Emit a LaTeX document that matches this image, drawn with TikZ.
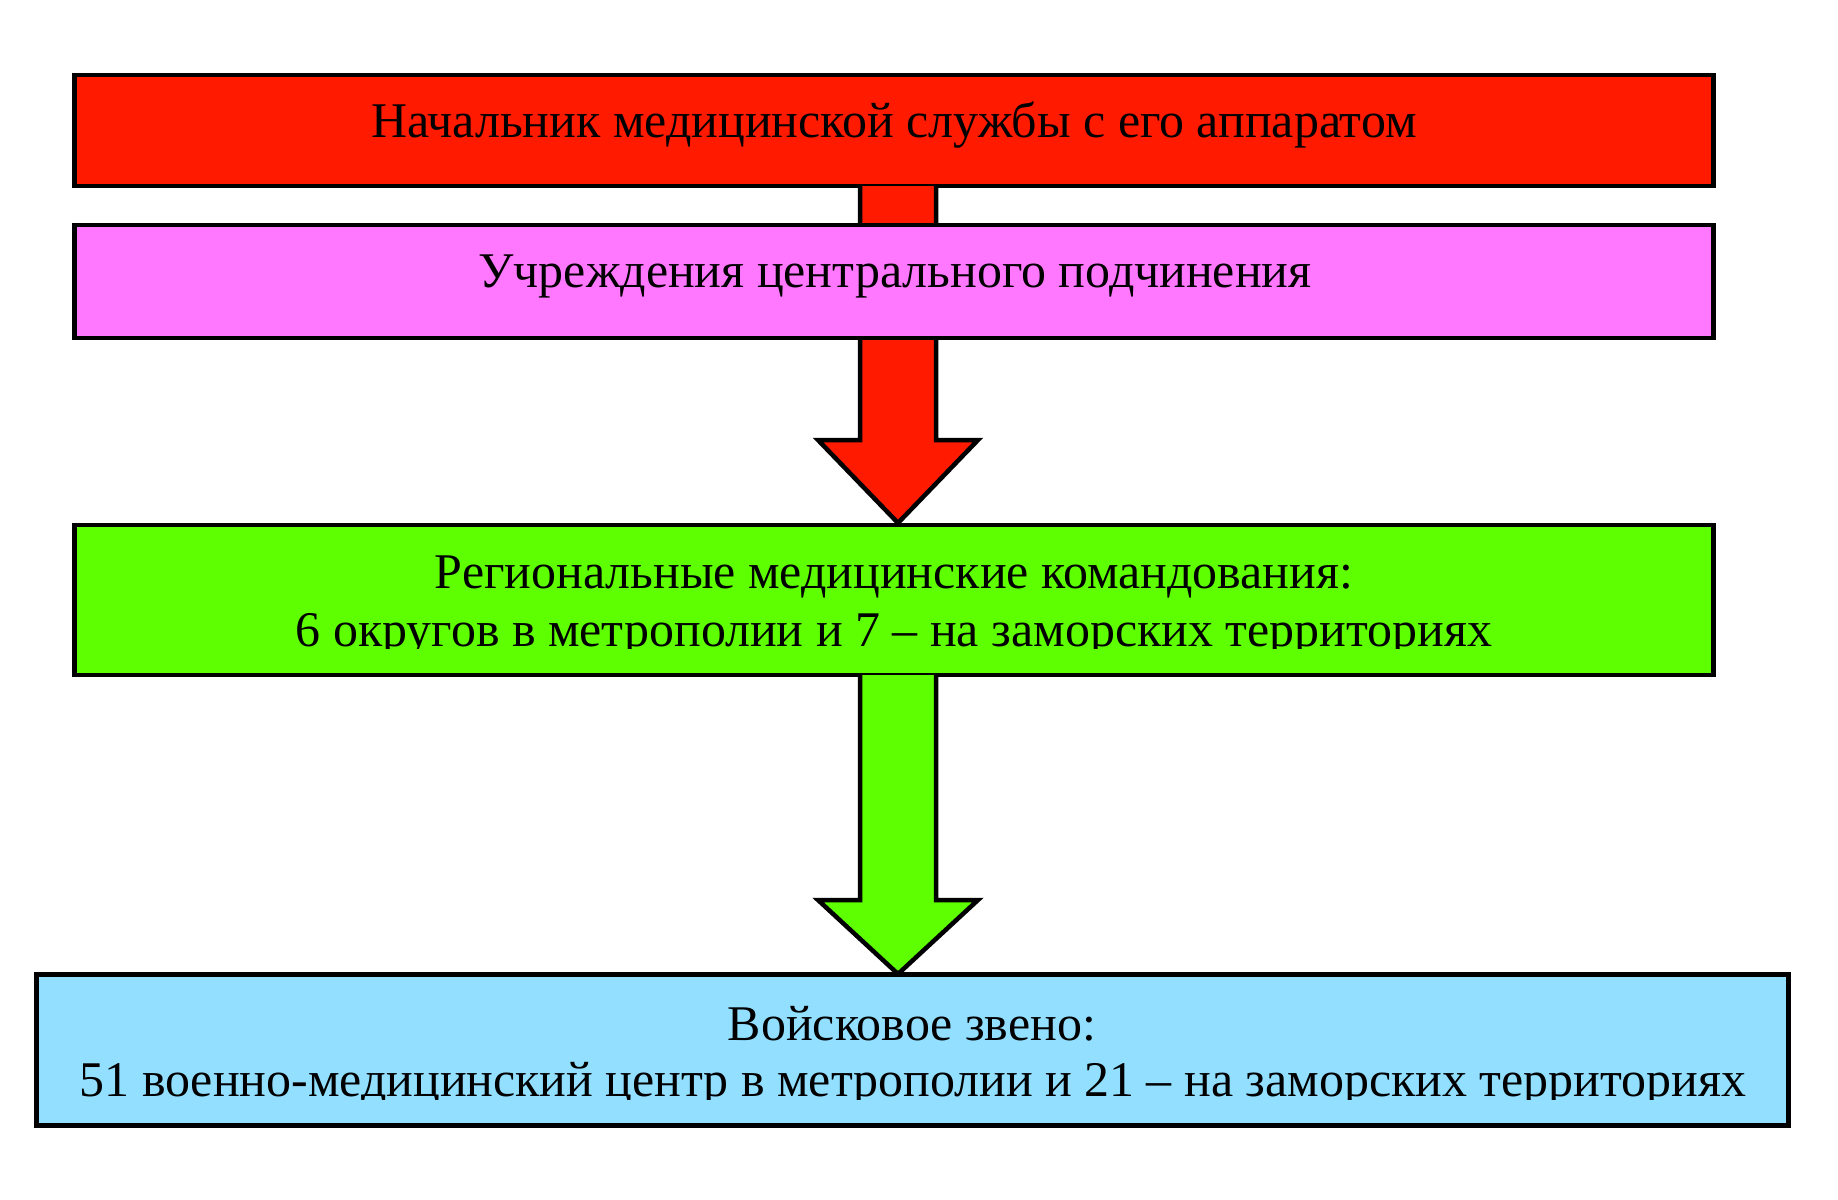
\documentclass[tikz,border=0pt]{standalone}
\usepackage{fontspec}
\setmainfont{Liberation Serif}
\usetikzlibrary{calc}
\definecolor{cred}{HTML}{FF1A00}
\definecolor{cpink}{HTML}{FF78FF}
\definecolor{cgreen}{HTML}{5EFF00}
\definecolor{cblue}{HTML}{92DFFF}
\begin{document}
\begin{tikzpicture}[x=0.01cm,y=-0.01cm,
  box/.style={draw=black,line width=0.045cm,inner sep=0pt,outer sep=0pt},
  lbl/.style={anchor=base,inner sep=0pt,font=\fontsize{14.2pt}{17pt}\selectfont},
  blockarrow/.style={draw=black,line width=0.045cm,line join=miter}]
\useasboundingbox (0,0) rectangle (1838,1200);
% boxes
\node[box,fill=cred] (boss) at (894,130.5) [minimum width=16.38cm,minimum height=1.11cm] {};
% red arrow (behind pink box)
\coordinate (a1top) at ($(boss.south)+(4,0)$);
\coordinate (a1tip) at (898,523);
\draw[blockarrow,fill=cred] ($(a1top)+(-38,0)$) -- ($(a1tip)+(-38,-83)$) -- ($(a1tip)+(-80,-83)$) -- (a1tip) -- ($(a1tip)+(80,-83)$) -- ($(a1tip)+(38,-83)$) -- ($(a1top)+(38,0)$);
\node[box,fill=cpink] (inst) at (894,281.5) [minimum width=16.38cm,minimum height=1.13cm] {};
\node[box,fill=cgreen] (reg) at (894,600) [minimum width=16.38cm,minimum height=1.50cm] {};
\node[box,fill=cblue] (troop) at (912.5,1050) [minimum width=17.51cm,minimum height=1.51cm] {};
% green arrow
\coordinate (a2top) at ($(reg.south)+(4,0)$);
\coordinate (a2tip) at (898,974);
\draw[blockarrow,fill=cgreen] ($(a2top)+(-38,0)$) -- ($(a2tip)+(-38,-74)$) -- ($(a2tip)+(-80,-74)$) -- (a2tip) -- ($(a2tip)+(80,-74)$) -- ($(a2tip)+(38,-74)$) -- ($(a2top)+(38,0)$);
% labels
\node[lbl] (t1) at (894,137) {Начальник медицинской службы с его аппаратом};
\node[lbl] (t2) at (895,287) {Учреждения центрального подчинения};
\node[lbl] (t3) at (894,588) {Региональные медицинские командования:};
\begin{scope}
\clip (100,600) rectangle (1700,648);
\node[lbl] (t4) at (894,646) {6 округов в метрополии и 7 – на заморских территориях};
\end{scope}
\node[lbl] (t5) at (912,1040) {Войсковое звено:};
\begin{scope}
\clip (50,1050) rectangle (1780,1099);
\node[lbl] (t6) at (913,1096) {51 военно-медицинский центр в метрополии и 21 – на заморских территориях};
\end{scope}
\end{tikzpicture}
\end{document}
